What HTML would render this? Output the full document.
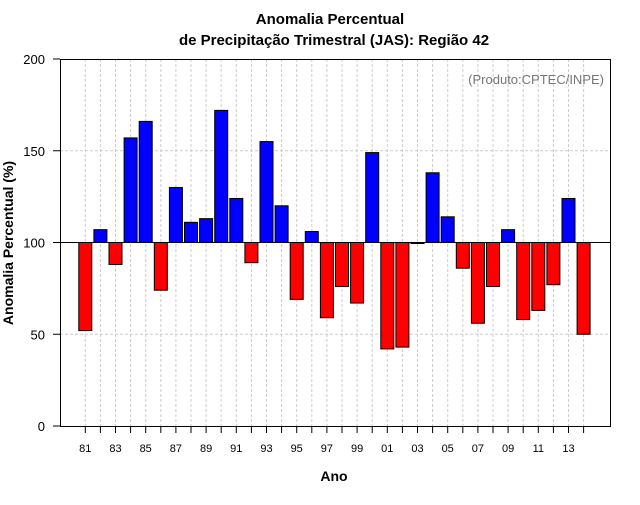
<!DOCTYPE html>
<html><head><meta charset="utf-8"><style>
body{margin:0;background:#fff;}
svg text{font-family:"Liberation Sans",sans-serif;}
</style></head><body>
<svg id="chart" width="640" height="500" xmlns="http://www.w3.org/2000/svg">
<rect width="640" height="500" fill="#fff"/>
<text x="330" y="24" text-anchor="middle" font-size="15" font-weight="bold">Anomalia Percentual</text>
<text x="334" y="45" text-anchor="middle" font-size="15" font-weight="bold">de Precipitação Trimestral (JAS): Região 42</text>
<g id="grid"></g>
<g id="bars"></g>
<line id="base" x1="60" x2="610" stroke="#000" stroke-width="1"/>
<rect x="60.5" y="59.5" width="550" height="367" fill="none" stroke="#000" stroke-width="1"/>
<g id="axes"></g>
<text x="604" y="84" text-anchor="end" font-size="13" fill="#777">(Produto:CPTEC/INPE)</text>
<text x="334" y="481" text-anchor="middle" font-size="14" font-weight="bold">Ano</text>
<text transform="translate(13,243) rotate(-90)" text-anchor="middle" font-size="14" font-weight="bold">Anomalia Percentual (%)</text>
</svg>
<script>
const years=[1981,1982,1983,1984,1985,1986,1987,1988,1989,1990,1991,1992,1993,1994,1995,1996,1997,1998,1999,2000,2001,2002,2003,2004,2005,2006,2007,2008,2009,2010,2011,2012,2013,2014];
const values=[52,107,88,157,166,74,130,111,113,172,124,89,155,120,69,106,59,76,67,149,42,43,99.5,138,114,86,56,76,107,58,63,77,124,50];
const yTicks=[0,50,100,150,200];
const NS="http://www.w3.org/2000/svg";
const svg=document.getElementById('chart');
function x(yr){return 85.3+(yr-1981)*15.1;}
function y(v){return 426-v*1.835;}
function mk(tag,attrs,parent){const e=document.createElementNS(NS,tag);for(const k in attrs)e.setAttribute(k,attrs[k]);parent.appendChild(e);return e;}
const grid=document.getElementById('grid'),bars=document.getElementById('bars'),axes=document.getElementById('axes');
years.forEach(yr=>{const g=mk('line',{x1:x(yr),x2:x(yr),y1:59,y2:426,stroke:'#ccc','stroke-dasharray':'3,2'},grid);

});
[50,100,150].forEach(v=>{const g=mk('line',{x1:60,x2:610,y1:y(v),y2:y(v),stroke:'#ccc','stroke-dasharray':'3,2'},grid);

});
years.forEach((yr,i)=>{const v=values[i];const top=Math.min(y(v),y(100)),h=Math.abs(y(v)-y(100));
const r=mk('rect',{x:x(yr)-6.5,y:top,width:13,height:Math.max(h,1),fill:v>=100?'#0000ff':'#ff0000',stroke:'#000','stroke-width':1},bars);

});
const b=document.getElementById('base');b.setAttribute('y1',y(100));b.setAttribute('y2',y(100));
years.forEach((yr,i)=>{const t=mk('line',{x1:x(yr),x2:x(yr),y1:426,y2:433,stroke:'#000'},axes);


if(i%2===0){const l=mk('text',{x:x(yr),y:452,'text-anchor':'middle','font-size':11},axes);l.textContent=String(yr%100).padStart(2,'0');

}});
yTicks.forEach(v=>{const t=mk('line',{x1:53,x2:60,y1:y(v),y2:y(v),stroke:'#000'},axes);


const l=mk('text',{x:45,y:y(v)+5,'text-anchor':'end','font-size':13},axes);l.textContent=v;

});
</script>
</body></html>
